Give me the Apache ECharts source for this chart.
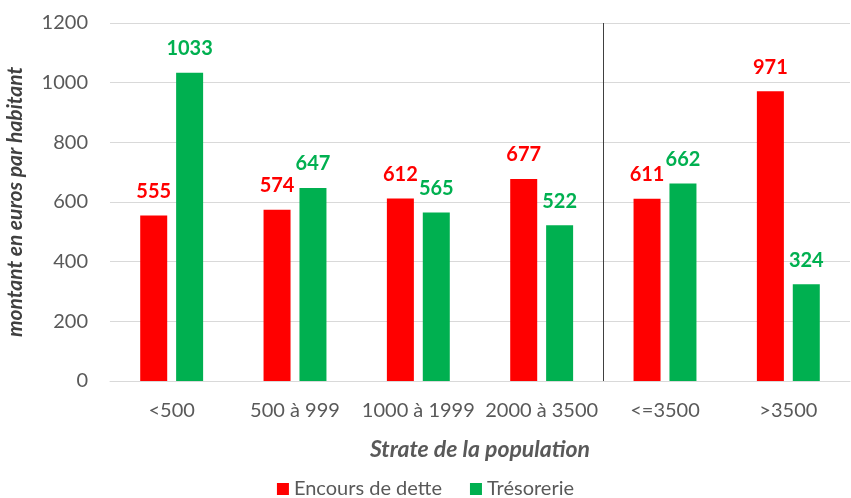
<!DOCTYPE html>
<html>
<head>
<meta charset="utf-8">
<script src="https://cdn.jsdelivr.net/npm/echarts@6/dist/echarts.min.js"></script>
<style>
  html, body { margin: 0; padding: 0; background: #fff; }
  #chart { width: 851px; height: 498px; }
</style>
</head>
<body>
<div id="chart"></div>
<script>
  const categories = ['<500', '500 à 999', '1000 à 1999', '2000 à 3500', '<=3500', '>3500']
  const encoursDette = [555, 574, 612, 677, 611, 971]
  const tresorerie = [1033, 647, 565, 522, 662, 324]
  const separatorAt = 3.5   // trait vertical entre les strates

  const font = 'Lato, "Open Sans", sans-serif'
  const chart = echarts.init(document.getElementById('chart'))

  const label = color => ({
    show: true,
    position: 'top',
    distance: 14,
    color: color,
    fontFamily: font,
    fontWeight: 'bold',
    fontSize: 20
  })

  chart.setOption({
    animation: false,
    textStyle: { fontFamily: font },
    grid: { left: 110, right: 1, top: 23, bottom: 117, outerBoundsMode: 'none' },
    legend: {
      bottom: -6,
      left: 'center',
      itemWidth: 12,
      itemHeight: 12,
      itemGap: 28,
      icon: 'rect',
      textStyle: { color: '#595959', fontSize: 20, fontFamily: font },
      data: ['Encours de dette', 'Trésorerie']
    },
    xAxis: [
      {
        type: 'category',
        data: categories,
        name: 'Strate de la population',
        nameLocation: 'middle',
        nameGap: 57,
        nameTextStyle: { color: '#595959', fontSize: 23, fontWeight: 'bold', fontStyle: 'italic', fontFamily: font },
        axisTick: { show: false },
        axisLine: { lineStyle: { color: '#d9d9d9', width: 1 } },
        axisLabel: { color: '#595959', fontSize: 20, margin: 20, interval: 0, fontFamily: font }
      },
      {
        // axe caché servant à placer le séparateur entre deux catégories
        type: 'value',
        min: -0.5,
        max: 5.5,
        show: false
      }
    ],
    yAxis: {
      type: 'value',
      min: 0,
      max: 1200,
      interval: 200,
      name: 'montant en euros par habitant',
      nameLocation: 'middle',
      nameGap: 84,
      nameTextStyle: { color: '#404040', fontSize: 21, fontWeight: 'bold', fontStyle: 'italic', fontFamily: font },
      axisLine: { show: false },
      axisTick: { show: false },
      axisLabel: { color: '#595959', fontSize: 20, margin: 22, fontFamily: font, formatter: v => String(v) },
      splitLine: { lineStyle: { color: '#d9d9d9', width: 1 } }
    },
    series: [
      {
        name: 'Encours de dette',
        type: 'bar',
        data: encoursDette,
        barWidth: 27,
        barGap: '33%',
        itemStyle: { color: '#ff0000' },
        label: label('#ff0000')
      },
      {
        name: 'Trésorerie',
        type: 'bar',
        data: tresorerie,
        barWidth: 27,
        itemStyle: { color: '#00b050' },
        label: label('#00b050')
      },
      {
        name: 'separateur',
        type: 'line',
        xAxisIndex: 1,
        data: [],
        markLine: {
          silent: true,
          symbol: 'none',
          label: { show: false },
          lineStyle: { color: '#404040', type: 'solid', width: 1 },
          data: [[{ coord: [separatorAt, 0] }, { coord: [separatorAt, 1200] }]]
        }
      }
    ]
  })
</script>
</body>
</html>
